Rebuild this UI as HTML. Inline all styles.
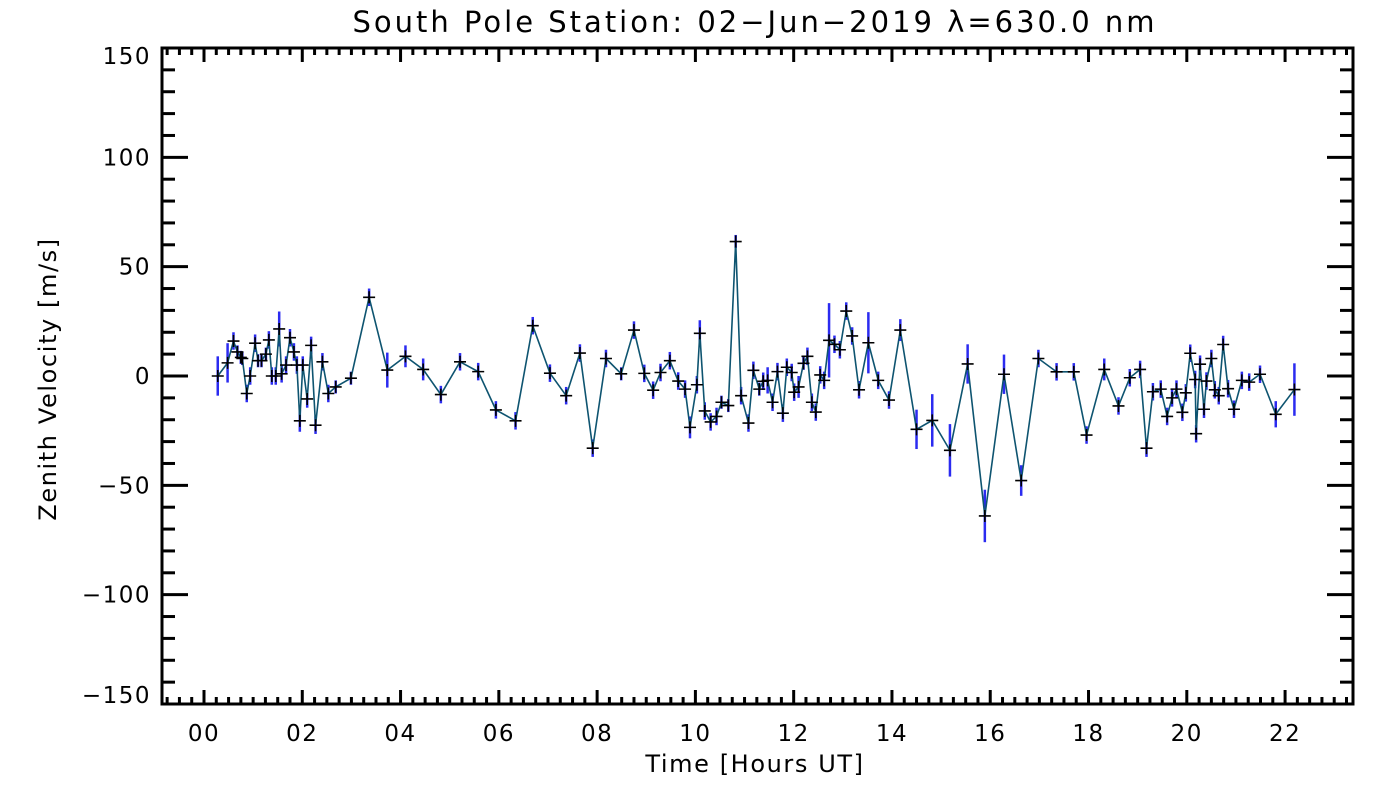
<!DOCTYPE html>
<html><head><meta charset="utf-8"><style>
html,body{margin:0;padding:0;background:#fff;}
svg{display:block;font-family:"DejaVu Sans","Liberation Sans",sans-serif;}
</style></head><body>
<svg id="chart" width="1400" height="800">
<text x="755" y="32" font-size="29" letter-spacing="3" text-anchor="middle">South Pole Station: 02−Jun−2019 λ=630.0 nm</text>
<text x="755" y="772" font-size="24" letter-spacing="1.6" text-anchor="middle">Time [Hours UT]</text>
<text transform="translate(56,379) rotate(-90)" font-size="24" letter-spacing="1.6" text-anchor="middle">Zenith Velocity [m/s]</text>
<g id="ticks"></g><g id="marks"></g>
<rect x="162" y="48" width="1191" height="656" fill="none" stroke="#000" stroke-width="3"/>
</svg>
<script>
const times=[0.28,0.48,0.60,0.68,0.75,0.78,0.87,0.94,1.04,1.10,1.17,1.26,1.32,1.38,1.46,1.53,1.58,1.67,1.75,1.83,1.89,1.95,2.01,2.10,2.18,2.27,2.41,2.53,2.68,2.99,3.36,3.73,4.10,4.46,4.82,5.21,5.58,5.94,6.34,6.69,
7.04,7.37,7.65,7.91,8.18,8.49,8.75,8.96,9.14,9.29,9.48,9.65,9.79,9.89,10.03,10.09,10.19,10.31,10.43,10.53,10.67,10.82,10.93,11.08,11.18,11.30,11.38,11.47,11.57,11.67,11.78,11.86,11.96,12.01,12.10,12.20,12.28,12.37,12.45,12.54,12.62,12.72,12.83,12.94,13.07,13.19,13.33,13.52,13.72,13.94,14.17,14.50,14.82,
15.18,15.54,15.89,16.28,16.63,16.98,17.35,17.70,17.96,18.32,18.61,18.84,19.05,19.18,19.31,19.47,19.60,19.70,19.79,19.91,19.98,20.07,20.17,20.19,20.27,20.35,20.40,20.50,20.57,20.65,20.74,20.84,20.96,21.12,21.27,21.49,21.81,22.19];
const velocities=[0,6,16,11,8.5,8,-8,0,15,7,7,10,16.5,0,0,21.5,1,5,17.5,11,5,-20.5,5,-10.5,14,-22.5,6.5,-8,-5,-1,36,2.7,9,3,-8.5,6.5,2,-15.5,-20.5,23,
1.3,-9,10.5,-33,8,1,21,1.2,-6.5,1.6,7,-2.3,-6,-23.5,-4,19.5,-16,-21,-18.5,-12,-13.5,61.5,-9,-21.5,2.6,-6,-2.4,-2,-12,2,-17,4,1.6,-7.4,-5,5.8,9,-12,-16.5,0.5,-2,16.3,14.5,12,29.7,18.3,-6.3,15.2,-2,-11,21,-24.4,-20.3,
-34,5.5,-64,0.8,-47.8,8,1.9,1.9,-27,3,-13.7,-0.8,3,-33,-7.2,-6,-18.5,-10,-6,-16.6,-7.7,10.4,-1.6,-26.4,5.4,-15.2,-2.3,8,-6.3,-9,14.4,-5.8,-15.2,-2,-2.8,0.8,-17.5,-6.2];
const errors=[9,9,4,3,3,3,4,4,4,3, 3,3,4,4,4,8,4,4,4,4, 4,5,4,4,4,4,4,4,3,3, 4,8,5,5,4,4,4,4,4,4,
4,4,4,4,4,3,4,4,4,4, 4,4,4,5,4,6,4,4,4,3, 3,3,4,4,4,3,4,6,4,4, 4,4,4,4,5,3,4,4,4,4, 4,17,4,4,4,4,4,14,4,4, 5,9,12,
12,9,12,9,7,4,4,4,4,5, 4,4,4,4,4,4,4,4,4,4, 4,4,4,4,4,4,4,4,4,4, 4,4,4,4,4,4,6,12];
const xTickLabels=["00","02","04","06","08","10","12","14","16","18","20","22"];
const yTickValues=[-150,-100,-50,0,50,100,150];

const NS="http://www.w3.org/2000/svg";
const X0=162,X1=1353,Y0=48,Y1=704;
const xs=h=>204+h*49.14;
const ys=v=>376-v*2.1867;
function mk(tag,attrs,parent){const e=document.createElementNS(NS,tag);for(const k in attrs)e.setAttribute(k,attrs[k]);parent.appendChild(e);return e;}
const tg=document.getElementById('ticks'), mg=document.getElementById('marks');
for(let q=-3;q*0.25<=23.4;q++){const h=q*0.25;const x=xs(h);if(x<X0+2||x>X1-2)continue;const major=(q%8===0);const len=major?14:7;
 const t1=mk('line',{x1:x,x2:x,y1:Y1,y2:Y1-len,stroke:'#000','stroke-width':3},tg);
 
 
 const t2=mk('line',{x1:x,x2:x,y1:Y0,y2:Y0+len,stroke:'#000','stroke-width':3},tg);
 
 }
xTickLabels.forEach(l=>{const h=parseInt(l,10);const t=mk('text',{x:xs(h),y:741,'font-size':23,'letter-spacing':1.5,'text-anchor':'middle'},tg);t.textContent=l;
 
 });
for(let v=-150;v<=150;v+=10){const y=ys(v);const major=(v%50===0);const len=major?26:13;
 const a=mk('line',{x1:X0,x2:X0+len,y1:y,y2:y,stroke:'#000','stroke-width':3},tg);
 
 
 const b=mk('line',{x1:X1,x2:X1-len,y1:y,y2:y,stroke:'#000','stroke-width':3},tg);
 
 }
yTickValues.forEach(v=>{const ty=Math.min(Math.max(ys(v)+8,64),703);const t=mk('text',{x:151,y:ty,'font-size':23,'letter-spacing':1.5,'text-anchor':'end'},tg);t.textContent=(v<0?'−':'')+Math.abs(v);
 
 });
times.forEach((h,i)=>{const e=mk('line',{x1:xs(h),x2:xs(h),y1:ys(velocities[i]+errors[i]),y2:ys(velocities[i]-errors[i]),stroke:'#2b2bf0','stroke-width':2.5},mg);
 
 });
const pl=mk('polyline',{points:times.map((h,i)=>xs(h)+','+ys(velocities[i])).join(' '),fill:'none',stroke:'#0e5470','stroke-width':1.6},mg);


times.forEach((h,i)=>{const x=xs(h),y=ys(velocities[i]);const p=mk('path',{d:`M${x-6},${y}H${x+6}M${x},${y-6}V${y+6}`,stroke:'#000','stroke-width':1.6,fill:'none'},mg);
 
 });
</script>
</body></html>
